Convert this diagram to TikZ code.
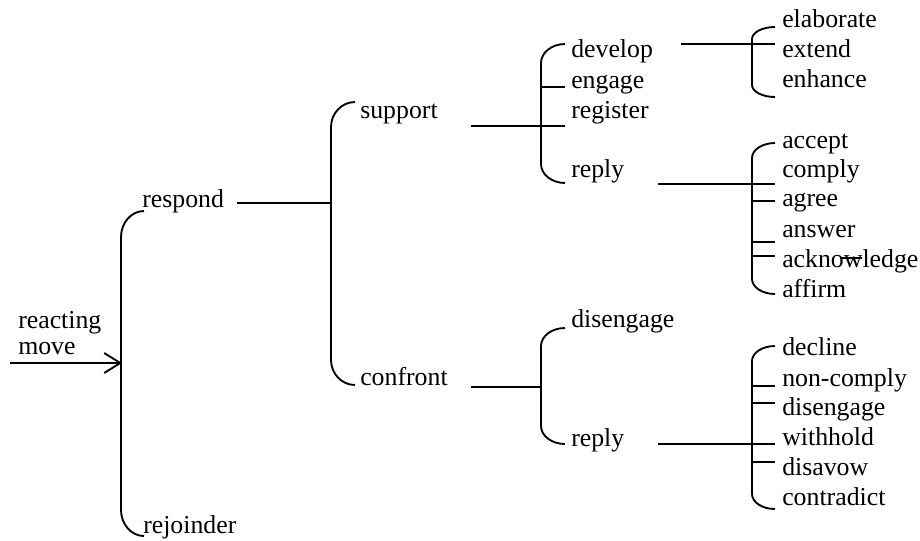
\documentclass[tikz,border=0pt]{standalone}
\usepackage{fontspec}
\setmainfont{Liberation Serif}
\usetikzlibrary{arrows.meta}

% curly system bracket: x, top y, bottom y, corner width, corner height
\newcommand\netbrace[5]{%
  \draw[net] ({#1+#4},#2) .. controls ({#1+0.45*#4},#2) and (#1,{#2+0.45*#5}) .. (#1,{#2+#5})
    -- (#1,{#3-#5}) .. controls (#1,{#3-0.45*#5}) and ({#1+0.45*#4},#3) .. ({#1+#4},#3);}

\begin{document}
\begin{tikzpicture}[x=0.75pt,y=-0.75pt,
  lbl/.style={anchor=base west, inner sep=0pt, font=\fontsize{19.35pt}{23pt}\selectfont},
  net/.style={line width=1.4pt, line cap=butt},
]
\useasboundingbox (0,0) rectangle (920,540);

% ---- labels ----
\node[lbl] (reacting) at (18,328) {reacting};
\node[lbl] (move) at (18,354) {move};
\node[lbl] (respond) at (142,207) {respond};
\node[lbl] (rejoinder) at (143,533) {rejoinder};
\node[lbl] (support) at (360,118) {support};
\node[lbl] (confront) at (360,385) {confront};
\node[lbl] (develop) at (571,57) {develop};
\node[lbl] (engage) at (571,88) {engage};
\node[lbl] (register) at (571,118) {register};
\node[lbl] (replyA) at (571,177) {reply};
\node[lbl] (disengageA) at (571,327) {disengage};
\node[lbl] (replyB) at (571,446) {reply};
\node[lbl] (elaborate) at (782,27) {elaborate};
\node[lbl] (extend) at (782,57) {extend};
\node[lbl] (enhance) at (782,87) {enhance};
\node[lbl] (accept) at (782,148) {accept};
\node[lbl] (comply) at (782,177) {comply};
\node[lbl] (agree) at (782,206) {agree};
\node[lbl] (answer) at (782,237) {answer};
\node[lbl] (acknowledge) at (782,267) {acknowledge};
\node[lbl] (affirm) at (782,297) {affirm};
\node[lbl] (decline) at (782,355) {decline};
\node[lbl] (noncomply) at (782,386) {non-comply};
\node[lbl] (disengageB) at (782,415) {disengage};
\node[lbl] (withhold) at (782,445) {withhold};
\node[lbl] (disavow) at (782,475) {disavow};
\node[lbl] (contradict) at (782,505) {contradict};

% ---- entry arrow ----
\coordinate (entry) at (10,363);
\coordinate (entryhit) at (122,363);
\draw[net, -{Straight Barb[length=12pt, width=15pt, line width=1.4pt]}] (entry) -- (entryhit);

% ---- brackets ----
\netbrace{121}{211}{536}{23}{26}
\netbrace{331}{102}{385}{24}{25}
\netbrace{541}{44}{183}{24}{19}
\netbrace{752}{27}{97}{23}{12}
\netbrace{752}{143}{294}{23}{15}
\netbrace{541}{328}{444}{24}{18}
\netbrace{752}{346}{509}{23}{15}

% ---- entry conditions into each bracket ----
\coordinate (respondOut) at (237,203);
\coordinate (respondIn) at (331,203);
\draw[net] (respondOut) -- (respondIn);

\coordinate (supportOut) at (471,126);
\coordinate (supportIn) at (565,126);
\draw[net] (supportOut) -- (supportIn);

\coordinate (confrontOut) at (471,387);
\coordinate (confrontIn) at (541,387);
\draw[net] (confrontOut) -- (confrontIn);

\coordinate (developOut) at (681,44);
\coordinate (developIn) at (775,44);
\draw[net] (developOut) -- (developIn);

\coordinate (replyAOut) at (658,184);
\coordinate (replyAIn) at (775,184);
\draw[net] (replyAOut) -- (replyAIn);

\coordinate (replyBOut) at (658,444);
\coordinate (replyBIn) at (775,444);
\draw[net] (replyBOut) -- (replyBIn);

% ---- option ticks ----
\draw[net] (541,87) -- (565,87);
\draw[net] (752,201) -- (775,201);
\draw[net] (752,242) -- (775,242);
\draw[net] (752,256) -- (775,256);
\draw[net] (752,386) -- (775,386);
\draw[net] (752,403) -- (775,403);
\draw[net] (752,462) -- (775,462);

% stroke across "acknowledge"
\draw[net] (840,258) -- (862,258);
\end{tikzpicture}
\end{document}
